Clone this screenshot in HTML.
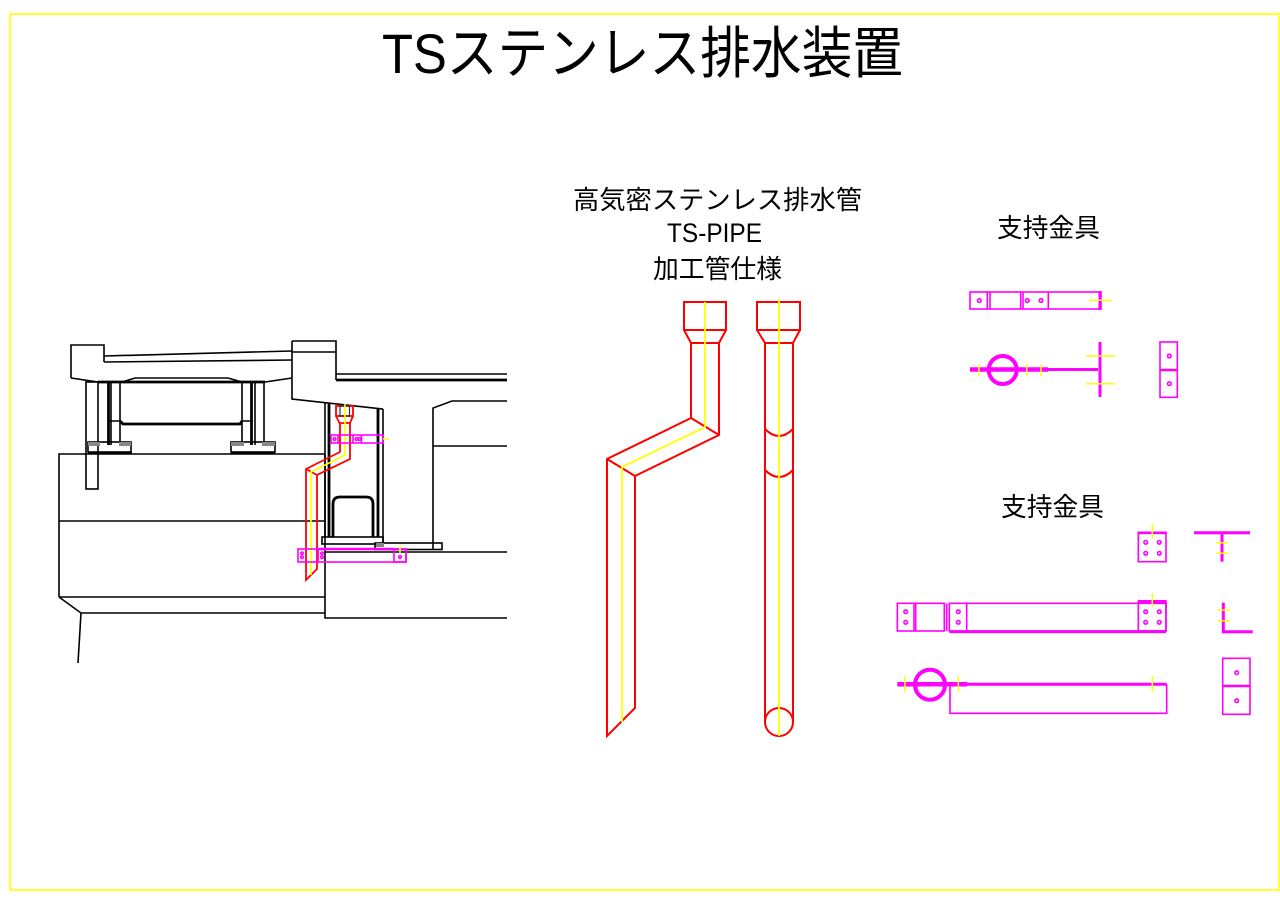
<!DOCTYPE html>
<html>
<head>
<meta charset="utf-8">
<style>
html,body{margin:0;padding:0;background:#fff;}
svg{display:block;}
text{font-family:"Liberation Sans","Noto Sans CJK JP",sans-serif;fill:#000;}
</style>
</head>
<body>
<svg width="1280" height="905" viewBox="0 0 1280 905" xmlns="http://www.w3.org/2000/svg">
<rect x="0" y="0" width="1280" height="905" fill="#fff"/>
<!-- frame -->
<rect x="10" y="14" width="1269" height="876" fill="none" stroke="#ffff00" stroke-width="1.6"/>

<!-- titles -->
<text x="382" y="73" font-size="56" textLength="521" lengthAdjust="spacingAndGlyphs">TSステンレス排水装置</text>
<text x="573" y="209" font-size="26" textLength="289" lengthAdjust="spacingAndGlyphs">高気密ステンレス排水管</text>
<text x="667" y="242" font-size="27" textLength="95" lengthAdjust="spacingAndGlyphs">TS-PIPE</text>
<text x="653" y="278" font-size="26" textLength="129" lengthAdjust="spacingAndGlyphs">加工管仕様</text>
<text x="997" y="237" font-size="26" textLength="103" lengthAdjust="spacingAndGlyphs">支持金具</text>
<text x="1001" y="516" font-size="26" textLength="103" lengthAdjust="spacingAndGlyphs">支持金具</text>

<!-- ============ LEFT BRIDGE DRAWING ============ -->
<g fill="none" stroke="#000" stroke-width="1.6">
  <path d="M71,378 L71,345 L104,345 L104,362"/>
  <path d="M104,356 L292,351"/>
  <path d="M104,362 L292,360"/>
  <path d="M71,378 L98,382"/>
  <path d="M265,382 L292,378"/>
  <path d="M122,382 L135,378 L228,378 L242,382"/>
  <rect x="86" y="382" width="12" height="107"/>
  <path d="M111,382 L111,445 M120,382 L120,445"/>
  <path d="M242,382 L242,445 M255,382 L255,445 M264,382 L264,445"/>
  <path d="M108,421 L120,421 M242,421 L253,421"/>
  <rect x="88" y="442" width="43" height="10"/>
  <rect x="231" y="442" width="44" height="10"/>
  <path d="M59,597 L59,454 L325,454"/>
  <path d="M59,521 L325,521"/>
  <path d="M59,597 L325,597"/>
  <path d="M59,597 L81,613 L325,613"/>
  <path d="M81,613 L78,663"/>
  <path d="M325,454 L325,618 L507,618"/>
  <path d="M325,552 L507,552"/>
  <path d="M292,341 L336,341 L336,380"/>
  <path d="M292,352 L336,352"/>
  <path d="M292,341 L292,399 L383,409"/>
  <path d="M336,374 L507,374"/>
  <path d="M325,403 L325,537"/>
  <path d="M383,409 L383,543"/>
  <rect x="322" y="537" width="61" height="7"/>
  <rect x="375" y="543" width="67" height="6.5"/>
  <path d="M433,550 L433,408 L452,401 L507,401"/>
  <path d="M433,446 L507,446"/>
</g>
<g fill="none" stroke="#000" stroke-width="2.8">
  <path d="M98,382 L265,382"/>
  <path d="M108.5,382 L108.5,445"/>
  <path d="M251.5,382 L251.5,445"/>
  <path d="M120,421 L123,424 L240,424 L242,421"/>
  <path d="M88,453 L132,453 M231,453 L275,453"/>
  <path d="M336,380 L507,380"/>
  <path d="M329,403 L329,537"/>
  <path d="M378,408.5 L378,537"/>
  <path d="M333,537 L333,504 Q333,497 340,497 L366,497 Q373,497 373,504 L373,537"/>
</g>
<g fill="#888" stroke="none">
  <rect x="88" y="442" width="12" height="4"/>
  <rect x="119" y="442" width="12" height="4"/>
  <rect x="231" y="442" width="13" height="4"/>
  <rect x="262" y="442" width="13" height="4"/>
  <rect x="376" y="543" width="8" height="4"/>
</g>

<!-- left red pipe -->
<g fill="none" stroke="#ff0000" stroke-width="1.8">
  <rect x="336" y="406" width="17" height="10"/>
  <path d="M336,416 L339.5,423 L350,423 L353,416"/>
  <path d="M340,423 L340,452 L306,469 L306,580 L317,569 L317,475 L350,459 L350,423"/>
  <path d="M306,469 L317,475"/>
</g>
<rect x="340" y="406" width="9.5" height="10" fill="none" stroke="#333" stroke-width="1.2"/>
<path d="M345,404 L345,455 L311,472 L311,575" fill="none" stroke="#ffff00" stroke-width="1.6"/>

<!-- left magenta supports -->
<g fill="none" stroke="#ff00ff" stroke-width="1.6">
  <rect x="331" y="435" width="52" height="8"/>
  <path d="M338,435 L338,443 M353,435 L353,443 M361.5,435 L361.5,443"/>
  <rect x="298" y="549" width="20" height="13"/>
  <rect x="318" y="549" width="88" height="13"/>
  <rect x="394" y="549" width="12" height="13"/>
  <path d="M318,549 L394,549" stroke-width="2.6"/>
  <circle cx="334.5" cy="439" r="1.3"/>
  <circle cx="356.5" cy="439" r="1.3"/>
  <circle cx="359.5" cy="439" r="1.3"/>
  <circle cx="302" cy="553.3" r="1.3"/>
  <circle cx="302" cy="557.3" r="1.3"/>
  <circle cx="322" cy="553.3" r="1.3"/>
  <circle cx="322" cy="557.3" r="1.3"/>
  <circle cx="400" cy="557" r="1.3"/>
</g>
<g stroke="#ffff00" stroke-width="1.5">
  <path d="M383,439 L389,439"/>
  <path d="M400,545 L400,553"/>
</g>

<!-- ============ PIPES ============ -->
<g fill="none" stroke="#ff0000" stroke-width="2">
  <rect x="684" y="302" width="42" height="28"/>
  <path d="M684,330 L691,343 L719,343 L726,330"/>
  <path d="M691,343 L691,418 L607,459 L607,736 L635,708 L635,476 L719,435 L719,343"/>
  <path d="M691,418 L719,435"/>
  <path d="M607,459 L635,476"/>
  <rect x="757" y="302" width="43" height="28"/>
  <path d="M757,330 L765,343 L793,343 L800,330"/>
  <path d="M765,343 L765,722 M793,343 L793,722"/>
  <path d="M765,429 Q779,443 793,429"/>
  <path d="M765,470 Q779,484 793,470"/>
  <circle cx="779" cy="722" r="14"/>
</g>
<g fill="none" stroke="#ffff00" stroke-width="1.8">
  <path d="M705,302 L705,427 L622,467 L622,722"/>
  <path d="M779,299 L779,736"/>
</g>

<!-- ============ SUPPORTS TOP ============ -->
<g fill="none" stroke="#ff00ff" stroke-width="1.6">
  <rect x="970" y="292" width="131" height="17"/>
  <path d="M987.3,292 L987.3,309 M990,292 L990,309 M1020.7,292 L1020.7,309 M1023,292 L1023,309 M1048.3,292 L1048.3,309"/>
  <path d="M1100,291 L1100,310" stroke-width="3"/>
  <circle cx="979.3" cy="300.5" r="1.8"/>
  <circle cx="1027.3" cy="300.5" r="1.8"/>
  <circle cx="1041" cy="300.5" r="1.8"/>
  <path d="M970,369.5 L1048,369.5" stroke-width="4.5"/>
  <path d="M1048,369.5 L1098,369.5" stroke-width="3"/>
  <circle cx="1002.7" cy="370" r="14" stroke-width="4"/>
  <path d="M1100,342 L1100,397" stroke-width="3"/>
  <rect x="1160" y="342" width="17.3" height="55.3"/>
  <path d="M1160,370 L1177.3,370" stroke-width="2.6"/>
  <circle cx="1169.3" cy="356" r="1.8"/>
  <circle cx="1169.3" cy="383.7" r="1.8"/>
</g>
<g fill="none" stroke="#ffff00" stroke-width="1.5">
  <path d="M1089,300.3 L1112,300.3"/>
  <path d="M1086,356 L1115,356 M1086,383.7 L1115,383.7"/>
  <path d="M979,364.5 L979,376 M1026.7,364.5 L1026.7,376 M1041,364.5 L1041,376"/>
</g>

<!-- ============ SUPPORTS BOTTOM ============ -->
<g fill="none" stroke="#ff00ff" stroke-width="1.6">
  <rect x="1138.3" y="532.3" width="27.7" height="29.4"/>
  <path d="M1138.3,532.8 L1166,532.8" stroke-width="2.6"/>
  <circle cx="1145.7" cy="542.3" r="1.8"/>
  <circle cx="1159.3" cy="542.3" r="1.8"/>
  <circle cx="1145.7" cy="553.3" r="1.8"/>
  <circle cx="1159.3" cy="553.3" r="1.8"/>
  <rect x="897.3" y="603.3" width="16.7" height="27.7"/>
  <rect x="915.7" y="603.3" width="28.6" height="27.7"/>
  <path d="M946.7,603.3 L946.7,631"/>
  <rect x="949.3" y="603.3" width="216.7" height="27.7"/>
  <path d="M966.7,603.3 L966.7,631"/>
  <path d="M949.3,631.7 L1166,631.7" stroke-width="2.8"/>
  <rect x="1138.3" y="601" width="27.7" height="30"/>
  <path d="M1138.3,601.5 L1166,601.5" stroke-width="3"/>
  <circle cx="905.7" cy="611.7" r="1.8"/>
  <circle cx="905.7" cy="622.3" r="1.8"/>
  <circle cx="958.3" cy="611.7" r="1.8"/>
  <circle cx="958.3" cy="622.3" r="1.8"/>
  <circle cx="1145.7" cy="611.7" r="1.8"/>
  <circle cx="1159.3" cy="611.7" r="1.8"/>
  <circle cx="1145.7" cy="622.3" r="1.8"/>
  <circle cx="1159.3" cy="622.3" r="1.8"/>
  <path d="M897.3,684.3 L967.3,684.3" stroke-width="4.5"/>
  <path d="M967,684.3 L1166.7,684.3" stroke-width="3"/>
  <circle cx="930" cy="684.7" r="15" stroke-width="4"/>
  <path d="M950,686 L950,713.3 L1166.7,713.3 L1166.7,684.3"/>
  <path d="M1194,532.7 L1250,532.7" stroke-width="3"/>
  <path d="M1222,532.7 L1222,561.7" stroke-width="3"/>
  <path d="M1223.3,602.7 L1223.3,631.7 L1252.7,631.7" stroke-width="3"/>
  <rect x="1222.7" y="658.3" width="27.3" height="56"/>
  <path d="M1222.7,686 L1250,686" stroke-width="2.6"/>
  <circle cx="1236.7" cy="672.7" r="1.8"/>
  <circle cx="1236.7" cy="700.7" r="1.8"/>
</g>
<g fill="none" stroke="#ffff00" stroke-width="1.5">
  <path d="M1152.3,524 L1152.3,539"/>
  <path d="M1152.3,593.3 L1152.3,606.7"/>
  <path d="M905,676 L905,692 M958.3,676 L958.3,692 M1152.3,676 L1152.3,692"/>
  <path d="M1216,542.7 L1228.3,542.7 M1216,553.3 L1228.3,553.3"/>
  <path d="M1217.3,610 L1230,610 M1217.3,620.7 L1230,620.7"/>
</g>
</svg>
</body>
</html>
